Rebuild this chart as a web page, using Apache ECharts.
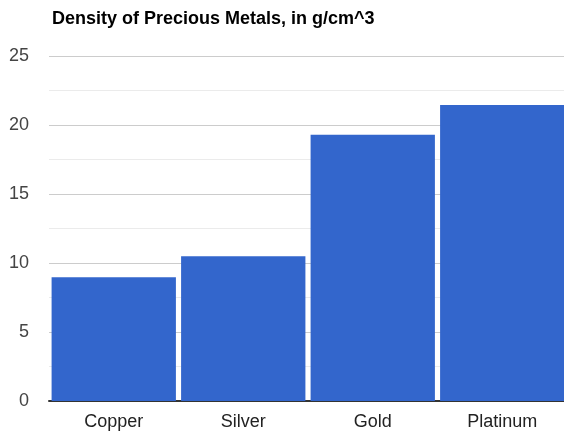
<!DOCTYPE html>
<html>
<head>
<meta charset="utf-8">
<script src="https://cdn.jsdelivr.net/npm/echarts@6/dist/echarts.min.js"></script>
<style>
  html, body { margin: 0; padding: 0; background: #fff; }
  #chart { width: 564px; height: 431px; }
</style>
</head>
<body>
<div id="chart"></div>
<script>
let metals = ['Copper', 'Silver', 'Gold', 'Platinum'];
let density = [8.96, 10.49, 19.3, 21.45];

let chart = echarts.init(document.getElementById('chart'));

let option = {
  animation: false,
  textStyle: { fontFamily: 'Arial, "Liberation Sans", sans-serif' },
  title: {
    text: 'Density of Precious Metals, in g/cm^3',
    left: 47,
    top: 5,
    textStyle: { fontSize: 18, fontWeight: 'bold', color: '#000' }
  },
  // plot runs a bit past the right edge, like the original
  grid: {
    left: 49, width: 518, top: 56, bottom: 30,
    containLabel: false, outerBoundsMode: 'none'
  },
  xAxis: {
    type: 'category',
    data: metals,
    axisTick: { show: false },
    axisLine: { lineStyle: { color: '#333', width: 2 } },
    axisLabel: { color: '#222', fontSize: 18, margin: 12 }
  },
  yAxis: {
    type: 'value',
    min: 0,
    max: 25,
    interval: 5,
    axisLine: { show: false },
    axisTick: { show: false },
    axisLabel: { color: '#444', fontSize: 18, margin: 20 },
    splitLine: { lineStyle: { color: '#cccccc', width: 1 } },
    minorTick: { show: false, splitNumber: 2 },
    minorSplitLine: { show: true, lineStyle: { color: '#ebebeb', width: 1 } }
  },
  series: [{
    type: 'bar',
    data: density,
    barCategoryGap: '4%',
    itemStyle: { color: '#3366cc' }
  }]
};

chart.setOption(option);
</script>
</body>
</html>
